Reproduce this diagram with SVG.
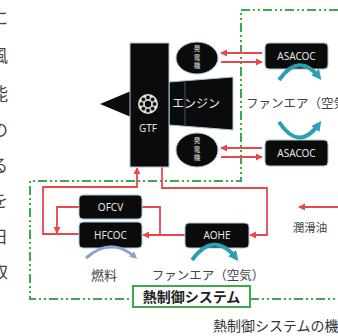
<svg xmlns="http://www.w3.org/2000/svg" width="338" height="336" viewBox="0 0 338 336">
  <style>
    .jp { font-family: "Noto Sans CJK JP", "Noto Sans", sans-serif; }
    .lat { font-family: "Noto Sans", "Liberation Sans", sans-serif; }
    .box { fill: #0b0b0b; stroke: #a9c6dc; stroke-width: 1; }
    .boxtext { fill: #e6e6e6; font-size: 10px; text-anchor: middle; }
    .red { fill: none; stroke: #e8474b; stroke-width: 1.8; }
    .green { fill: none; stroke: #3aaa4a; stroke-width: 2; stroke-dasharray: 9 3 2 3 2 3; }
    .teal { fill: none; stroke: #2aa0b2; stroke-width: 4; }
    .fuel { fill: none; stroke: #8aa5c9; stroke-width: 3; }
    .label { fill: #444; text-anchor: middle; }
    .side { fill: #444; font-size: 17px; }
  </style>
  <defs>
    <marker id="ar" viewBox="0 0 8 8" refX="7" refY="4" markerWidth="4" markerHeight="4" orient="auto" markerUnits="strokeWidth">
      <path d="M0,0 L8,4 L0,8 Z" fill="#e8474b"/>
    </marker>
    <marker id="at" viewBox="0 0 8 8" refX="5" refY="4" markerWidth="2.5" markerHeight="2.5" orient="auto" markerUnits="strokeWidth">
      <path d="M0,0 L8,4 L0,8 Z" fill="#2aa0b2"/>
    </marker>
    <marker id="af" viewBox="0 0 8 8" refX="5" refY="4" markerWidth="2.5" markerHeight="2.5" orient="auto" markerUnits="strokeWidth">
      <path d="M0,0 L8,4 L0,8 Z" fill="#8aa5c9"/>
    </marker>
  </defs>
  <rect width="338" height="336" fill="#ffffff"/>

  <!-- vertical body text running off the left edge -->
  <g id="side-text" class="jp side">
    <text x="-9" y="24">に</text>
    <text x="-9" y="62">風</text>
    <text x="-9" y="100">能</text>
    <text x="-9" y="136">の</text>
    <text x="-9" y="172">る</text>
    <text x="-9" y="207">を</text>
    <text x="-9" y="243">日</text>
    <text x="-9" y="278">取</text>
  </g>

  <!-- thermal management boundary -->
  <g id="boundary">
    <path class="green" d="M338,10 H241 V181 H30 V299 H133"/>
    <path class="green" d="M250,299 H338"/>
  </g>

  <!-- connectors -->
  <g id="connectors">
    <line class="red" x1="262" y1="53" x2="221" y2="53" marker-end="url(#ar)"/>
    <line class="red" x1="221" y1="62" x2="262" y2="62" marker-end="url(#ar)"/>
    <line class="red" x1="262" y1="148" x2="221" y2="148" marker-end="url(#ar)"/>
    <line class="red" x1="221" y1="157" x2="262" y2="157" marker-end="url(#ar)"/>
    <path class="red" d="M79,234 H43 V187 H137 V168" marker-end="url(#ar)"/>
    <path class="red" d="M79,207 H57 V233" marker-end="url(#ar)"/>
    <path class="red" d="M142,207 H160 V235"/>
    <path class="red" d="M185,235 H143" marker-end="url(#ar)"/>
    <path class="red" d="M162,167 V188 H267 V235 H250" marker-end="url(#ar)"/>
    <path class="red" d="M338,207 H299" marker-end="url(#ar)"/>
  </g>

  <!-- engine core -->
  <g id="engine">
    <polygon points="131,91 131,117 100,104" fill="#0b0b0b"/>
    <polygon class="box" points="169,82 233,77 233,130 169,125"/>
    <line x1="185" y1="81" x2="185" y2="126" stroke="#3d6d85" stroke-width="0.8"/>
    <text class="jp" x="196" y="108" fill="#e6e6e6" font-size="12" text-anchor="middle">エンジン</text>
  </g>

  <g id="gtf">
    <rect class="box" x="130" y="43" width="39" height="124"/>
    <circle cx="148" cy="104" r="10" fill="#e4e4e4"/>
    <g fill="#0b0b0b" stroke="#e4e4e4" stroke-width="0.6">
      <circle cx="154.5" cy="104" r="2.2"/>
      <circle cx="152.6" cy="108.6" r="2.2"/>
      <circle cx="148" cy="110.5" r="2.2"/>
      <circle cx="143.4" cy="108.6" r="2.2"/>
      <circle cx="141.5" cy="104" r="2.2"/>
      <circle cx="143.4" cy="99.4" r="2.2"/>
      <circle cx="148" cy="97.5" r="2.2"/>
      <circle cx="152.6" cy="99.4" r="2.2"/>
    </g>
    <circle cx="148" cy="104" r="3.2" fill="#0b0b0b"/>
    <text class="lat" x="148" y="132" fill="#e0e0e0" font-size="10" text-anchor="middle">GTF</text>
  </g>

  <!-- generators -->
  <g id="gen-upper">
    <ellipse class="box" cx="197" cy="58" rx="21" ry="16"/>
    <g class="jp" fill="#e6e6e6" font-size="6.5" text-anchor="middle">
      <text x="197" y="51">発</text>
      <text x="197" y="59.5">電</text>
      <text x="197" y="68">機</text>
    </g>
  </g>
  <g id="gen-lower">
    <ellipse class="box" cx="197" cy="150" rx="21" ry="17"/>
    <g class="jp" fill="#e6e6e6" font-size="6.5" text-anchor="middle">
      <text x="197" y="143">発</text>
      <text x="197" y="151.5">電</text>
      <text x="197" y="160">機</text>
    </g>
  </g>

  <!-- heat exchangers -->
  <g id="asacoc-upper">
    <rect class="box" x="265" y="43" width="63" height="26" rx="4"/>
    <text class="lat boxtext" x="296.5" y="59.5">ASACOC</text>
  </g>
  <g id="asacoc-lower">
    <rect class="box" x="265" y="140" width="63" height="26" rx="4"/>
    <text class="lat boxtext" x="296.5" y="156.5">ASACOC</text>
  </g>
  <g id="ofcv">
    <rect class="box" x="79" y="195" width="63" height="24" rx="4"/>
    <text class="lat boxtext" x="110.5" y="210.5">OFCV</text>
  </g>
  <g id="hfcoc">
    <rect class="box" x="79" y="222" width="63" height="26" rx="4"/>
    <text class="lat boxtext" x="110.5" y="238.5">HFCOC</text>
  </g>
  <g id="aohe">
    <rect class="box" x="185" y="223" width="64" height="25" rx="4"/>
    <text class="lat boxtext" x="217" y="239">AOHE</text>
  </g>

  <!-- fan air and fuel flows -->
  <g id="flows">
    <path class="teal" d="M279,80 Q299,52 319,77" marker-end="url(#at)"/>
    <path class="teal" d="M279,122 Q299,152 319,124" marker-end="url(#at)"/>
    <path class="teal" d="M192,260 Q214,230 236,258" marker-end="url(#at)"/>
    <path class="fuel" d="M86,258 Q111,236 135,257" marker-end="url(#af)"/>
  </g>

  <!-- labels -->
  <g id="labels" class="jp">
    <text x="246" y="108" fill="#444" font-size="12.5">ファンエア（空気）</text>
    <text class="label" x="104" y="280" font-size="13">燃料</text>
    <text class="label" x="208" y="280" font-size="12.5">ファンエア（空気）</text>
    <text class="label" x="310" y="232" font-size="11.5">潤滑油</text>
  </g>

  <g id="system-label">
    <rect x="133" y="286" width="117" height="21" fill="#ffffff" stroke="#3aaa4a" stroke-width="2"/>
    <text class="jp" x="191.5" y="302" fill="#222" font-size="14" font-weight="bold" text-anchor="middle">熱制御システム</text>
  </g>

  <text id="caption" class="jp" x="213" y="331" fill="#333" font-size="14">熱制御システムの機能</text>
</svg>
